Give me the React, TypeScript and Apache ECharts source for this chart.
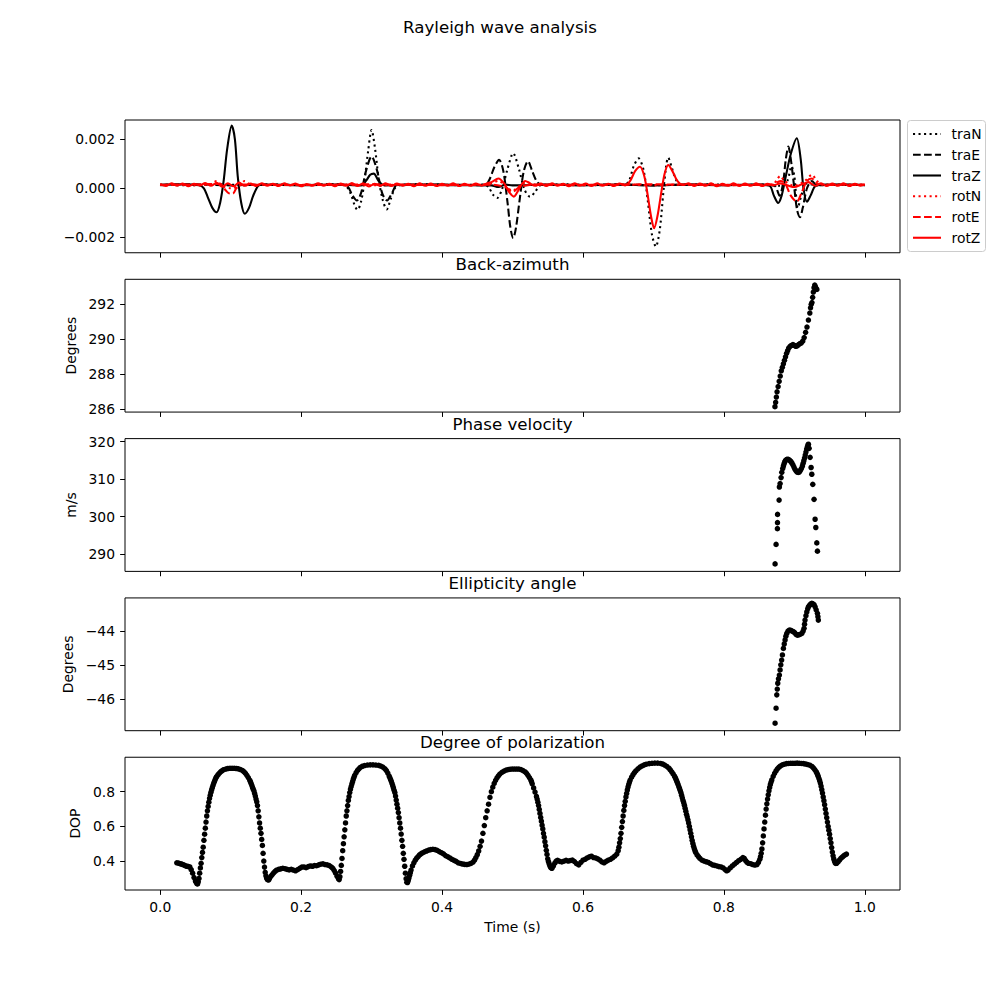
import React, { useEffect, useRef } from 'react';
import * as echarts from 'echarts';

// ---------------- data ----------------
const TIME_TICKS = [0, 0.2, 0.4, 0.6, 0.8, 1.0];
const AMP_UNIT = 1e-3; // amplitudes below are in units of 1e-3

const TRA_N: number[][] = [
  [0, 0.15], [0.04, 0.12], [0.08, 0.16], [0.12, 0.13], [0.16, 0.15], [0.2, 0.13], [0.24, 0.16], [0.262, 0.12],
  [0.27, -0.2], [0.276, -0.7], [0.28, -0.88], [0.285, -0.55], [0.29, 0.3], [0.295, 1.5], [0.3, 2.38], [0.305, 1.6],
  [0.31, 0.4], [0.316, -0.5], [0.3215, -0.86], [0.327, -0.45], [0.333, 0.0], [0.34, 0.14], [0.38, 0.16], [0.42, 0.13],
  [0.46, 0.15], [0.466, 0.05], [0.472, -0.25], [0.478, -0.4], [0.485, -0.05], [0.493, 0.8], [0.501, 1.43], [0.509, 0.8],
  [0.517, -0.05], [0.525, -0.35], [0.532, -0.15], [0.54, 0.13], [0.58, 0.16], [0.62, 0.13], [0.66, 0.15], [0.666, 0.35],
  [0.672, 0.9], [0.679, 1.22], [0.686, 0.75], [0.692, -0.5], [0.698, -1.9], [0.7035, -2.38], [0.709, -1.7], [0.714, -0.2],
  [0.718, 0.9], [0.721, 1.25], [0.726, 0.85], [0.733, 0.3], [0.74, 0.14], [0.78, 0.16], [0.82, 0.13], [0.86, 0.15],
  [0.88, 0.1], [0.89, 0.3], [0.896, 0.9], [0.9, 0.5], [0.905, -0.8], [0.91, -0.3], [0.918, 0.2], [0.93, 0.12],
  [0.96, 0.15], [1.0, 0.14],
];
const TRA_E: number[][] = [
  [0, 0.13], [0.05, 0.16], [0.1, 0.12], [0.15, 0.15], [0.2, 0.13], [0.25, 0.16], [0.265, 0.1], [0.273, -0.3],
  [0.279, -0.5], [0.285, -0.2], [0.292, 0.7], [0.3, 1.3], [0.308, 0.7], [0.315, -0.2], [0.322, -0.5], [0.329, -0.2],
  [0.336, 0.12], [0.4, 0.15], [0.45, 0.13], [0.462, 0.15], [0.468, 0.4], [0.474, 0.85], [0.481, 1.16], [0.487, 0.7],
  [0.493, -0.6], [0.497, -1.6], [0.501, -2.04], [0.505, -1.6], [0.51, -0.5], [0.516, 0.7], [0.522, 1.11], [0.528, 0.7],
  [0.534, 0.3], [0.54, 0.15], [0.6, 0.13], [0.65, 0.16], [0.7, 0.12], [0.75, 0.15], [0.8, 0.13], [0.85, 0.15],
  [0.872, 0.1], [0.879, -0.3], [0.884, 0.2], [0.888, 1.2], [0.8916, 1.7], [0.895, 1.2], [0.9, 0.0], [0.904, -0.9],
  [0.908, -1.18], [0.912, -0.8], [0.918, 0.0], [0.925, 0.3], [0.932, 0.12], [0.95, 0.15], [1.0, 0.13],
];
const TRA_Z: number[][] = [
  [0, 0.14], [0.03, 0.16], [0.055, 0.13], [0.062, 0.0], [0.068, -0.4], [0.074, -0.8], [0.08, -0.98], [0.085, -0.6],
  [0.09, 0.3], [0.095, 1.6], [0.1015, 2.56], [0.106, 2.0], [0.11, 0.5], [0.115, -0.6], [0.12, -1.04], [0.126, -0.8],
  [0.132, -0.3], [0.139, 0.1], [0.145, 0.15], [0.2, 0.13], [0.25, 0.15], [0.285, 0.12], [0.292, 0.3], [0.298, 0.55],
  [0.303, 0.6], [0.31, 0.3], [0.318, 0.12], [0.36, 0.15], [0.42, 0.13], [0.47, 0.12], [0.48, 0.05], [0.49, 0.15],
  [0.5, 0.12], [0.55, 0.15], [0.6, 0.13], [0.65, 0.15], [0.7, 0.12], [0.75, 0.15], [0.8, 0.13], [0.85, 0.14],
  [0.865, 0.1], [0.871, -0.3], [0.877, -0.6], [0.882, -0.3], [0.888, 0.5], [0.895, 1.4], [0.9035, 2.04], [0.909, 1.2],
  [0.913, 0.0], [0.918, -0.55], [0.923, -0.3], [0.93, 0.1], [0.94, 0.14], [0.97, 0.15], [1.0, 0.13],
];
const ROT_N: number[][] = [
  [0, 0.15], [0.05, 0.13], [0.072, 0.16], [0.08, 0.3], [0.088, 0.1], [0.1, 0.0], [0.112, 0.1], [0.12, 0.3],
  [0.128, 0.15], [0.2, 0.14], [0.26, 0.15], [0.3, 0.12], [0.35, 0.15], [0.45, 0.14], [0.47, 0.2], [0.48, 0.3],
  [0.49, 0.1], [0.5, -0.1], [0.51, 0.1], [0.52, 0.25], [0.53, 0.15], [0.6, 0.13], [0.66, 0.15], [0.7, 0.13],
  [0.76, 0.15], [0.82, 0.14], [0.87, 0.15], [0.875, 0.35], [0.88, 0.5], [0.886, 0.3], [0.9, 0.1], [0.915, 0.3],
  [0.925, 0.55], [0.932, 0.3], [0.94, 0.15], [1.0, 0.14],
];
const ROT_E: number[][] = [
  [0, 0.14], [0.06, 0.16], [0.085, 0.18], [0.092, -0.05], [0.097, -0.2], [0.103, -0.22], [0.108, 0.0], [0.115, 0.15],
  [0.2, 0.13], [0.3, 0.16], [0.4, 0.13], [0.47, 0.15], [0.49, 0.05], [0.5, -0.15], [0.51, 0.05], [0.53, 0.15],
  [0.6, 0.14], [0.7, 0.16], [0.8, 0.13], [0.87, 0.15], [0.88, 0.3], [0.887, 0.2], [0.895, -0.3], [0.9035, -0.55],
  [0.91, -0.2], [0.918, 0.3], [0.925, 0.4], [0.932, 0.2], [0.95, 0.14], [1.0, 0.15],
];
const ROT_Z: number[][] = [
  [0, 0.16], [0.008, 0.09], [0.016, 0.2], [0.024, 0.11], [0.032, 0.19], [0.04, 0.08], [0.048, 0.18], [0.056, 0.12],
  [0.064, 0.21], [0.072, 0.1], [0.08, 0.22], [0.088, 0.06], [0.096, 0.2], [0.104, 0.08], [0.112, 0.23], [0.12, 0.1],
  [0.128, 0.19], [0.136, 0.09], [0.144, 0.2], [0.152, 0.11], [0.16, 0.18], [0.168, 0.09], [0.176, 0.2], [0.184, 0.12],
  [0.192, 0.19], [0.2, 0.08], [0.208, 0.17], [0.216, 0.1], [0.224, 0.2], [0.232, 0.11], [0.24, 0.18], [0.248, 0.08],
  [0.256, 0.19], [0.264, 0.1], [0.272, 0.21], [0.28, 0.09], [0.288, 0.2], [0.296, 0.07], [0.304, 0.18], [0.312, 0.1],
  [0.32, 0.2], [0.328, 0.09], [0.336, 0.19], [0.344, 0.11], [0.352, 0.18], [0.36, 0.08], [0.368, 0.2], [0.376, 0.1],
  [0.384, 0.19], [0.392, 0.09], [0.4, 0.18], [0.408, 0.11], [0.416, 0.2], [0.424, 0.09], [0.432, 0.18], [0.44, 0.1],
  [0.448, 0.19], [0.456, 0.11], [0.464, 0.2], [0.47, 0.25], [0.48, 0.4], [0.488, 0.2], [0.495, -0.15], [0.502, -0.34],
  [0.508, -0.1], [0.513, 0.15], [0.518, 0.3], [0.525, 0.2], [0.532, 0.1], [0.54, 0.19], [0.548, 0.09], [0.556, 0.2],
  [0.564, 0.1], [0.572, 0.18], [0.58, 0.08], [0.588, 0.2], [0.596, 0.11], [0.604, 0.19], [0.612, 0.09], [0.62, 0.2],
  [0.628, 0.1], [0.636, 0.18], [0.644, 0.09], [0.652, 0.19], [0.66, 0.12], [0.667, 0.3], [0.674, 0.7], [0.681, 0.88],
  [0.687, 0.5], [0.692, -0.3], [0.697, -1.2], [0.701, -1.63], [0.706, -1.1], [0.711, -0.2], [0.716, 0.6], [0.721, 0.95],
  [0.727, 0.7], [0.734, 0.3], [0.742, 0.14], [0.75, 0.2], [0.758, 0.09], [0.766, 0.19], [0.774, 0.1], [0.782, 0.2],
  [0.79, 0.08], [0.798, 0.18], [0.806, 0.11], [0.814, 0.2], [0.822, 0.09], [0.83, 0.19], [0.838, 0.1], [0.846, 0.2],
  [0.854, 0.09], [0.862, 0.18], [0.87, 0.12], [0.88, 0.2], [0.89, 0.12], [0.9, 0.05], [0.91, 0.15], [0.92, 0.25],
  [0.93, 0.1], [0.938, 0.2], [0.946, 0.09], [0.954, 0.19], [0.962, 0.1], [0.97, 0.2], [0.978, 0.09], [0.986, 0.18],
  [0.994, 0.11], [1.0, 0.16],
];

const BACK_AZIMUTH: number[][] = [
  [0.8725, 286.15], [0.8735, 286.4], [0.8745, 286.7], [0.8755, 287.0], [0.877, 287.3], [0.8785, 287.6], [0.88, 287.9],
  [0.8815, 288.2], [0.883, 288.4], [0.8845, 288.6], [0.886, 288.8], [0.8875, 289.0], [0.889, 289.2], [0.8905, 289.35],
  [0.892, 289.5], [0.894, 289.6], [0.896, 289.65], [0.898, 289.7], [0.9, 289.65], [0.902, 289.6], [0.904, 289.62],
  [0.906, 289.7], [0.908, 289.75], [0.91, 289.8], [0.912, 289.9], [0.914, 290.1], [0.916, 290.4], [0.918, 290.7],
  [0.92, 291.1], [0.922, 291.5], [0.923, 291.8], [0.924, 292.0], [0.925, 292.1], [0.926, 292.4], [0.927, 292.7],
  [0.928, 292.95], [0.929, 293.1], [0.93, 293.0], [0.931, 292.9], [0.932, 292.85],
];
const PHASE_VELOCITY: number[][] = [
  [0.8727, 287.4], [0.8741, 292.6], [0.876, 296.8], [0.8761, 298.4], [0.8762, 300.6], [0.8784, 304.4], [0.8788, 307.9],
  [0.8798, 308.8], [0.8812, 310.4], [0.8822, 311.8], [0.8835, 312.8], [0.8845, 313.5], [0.8855, 314.1], [0.8865, 314.6],
  [0.8875, 315.0], [0.889, 315.2], [0.8905, 315.3], [0.892, 315.2], [0.8935, 315.0], [0.895, 314.7], [0.8965, 314.3],
  [0.898, 313.8], [0.8995, 313.2], [0.901, 312.6], [0.9025, 312.2], [0.904, 311.9], [0.9055, 311.8], [0.907, 311.9],
  [0.9085, 312.3], [0.91, 312.8], [0.9115, 313.5], [0.9125, 314.2], [0.9135, 314.9], [0.9145, 315.6], [0.9155, 316.4],
  [0.9165, 317.2], [0.9175, 318.0], [0.9185, 318.6], [0.9195, 319.1], [0.92, 319.3], [0.921, 318.2], [0.9224, 315.8],
  [0.9238, 313.1], [0.9248, 311.3], [0.9262, 308.6], [0.928, 304.6], [0.9295, 299.3], [0.9305, 297.1], [0.9319, 293.0],
  [0.9328, 290.8],
];
const ELLIPTICITY: number[][] = [
  [0.8727, -46.7], [0.8741, -46.26], [0.8751, -45.87], [0.8758, -45.7], [0.8765, -45.53], [0.8775, -45.4], [0.8788, -45.29],
  [0.8798, -45.14], [0.8808, -44.99], [0.882, -44.85], [0.8831, -44.7], [0.8845, -44.51], [0.8857, -44.38], [0.8869, -44.26],
  [0.888, -44.15], [0.8893, -44.07], [0.891, -44.0], [0.893, -43.97], [0.895, -43.98], [0.897, -44.0], [0.8987, -44.02],
  [0.9005, -44.05], [0.9025, -44.1], [0.9043, -44.12], [0.906, -44.11], [0.908, -44.1], [0.9106, -44.07], [0.9125, -44.0],
  [0.9138, -43.92], [0.9145, -43.8], [0.9152, -43.68], [0.9165, -43.55], [0.9177, -43.44], [0.919, -43.35], [0.92, -43.29],
  [0.9215, -43.25], [0.923, -43.21], [0.9248, -43.19], [0.926, -43.2], [0.928, -43.23], [0.9295, -43.29], [0.931, -43.38],
  [0.9328, -43.48], [0.9335, -43.58], [0.9341, -43.68],
];
const DOP: number[][] = [
  [0.0235, 0.39], [0.026, 0.388], [0.028, 0.385], [0.03, 0.383], [0.032, 0.38], [0.034, 0.377], [0.036, 0.372], [0.038, 0.37],
  [0.04, 0.368], [0.042, 0.366], [0.044, 0.35], [0.046, 0.33], [0.048, 0.305], [0.05, 0.285], [0.051, 0.278], [0.052, 0.27],
  [0.053, 0.268], [0.054, 0.28], [0.055, 0.3], [0.056, 0.33], [0.057, 0.36], [0.058, 0.387], [0.059, 0.42], [0.06, 0.45],
  [0.061, 0.48], [0.062, 0.52], [0.063, 0.555], [0.064, 0.59], [0.065, 0.625], [0.066, 0.66], [0.067, 0.69], [0.068, 0.715],
  [0.069, 0.74], [0.07, 0.762], [0.071, 0.78], [0.072, 0.797], [0.073, 0.812], [0.074, 0.825], [0.075, 0.838], [0.076, 0.85],
  [0.077, 0.86], [0.078, 0.87], [0.079, 0.88], [0.08, 0.887], [0.082, 0.898], [0.084, 0.908], [0.086, 0.916], [0.088, 0.922],
  [0.09, 0.927], [0.093, 0.931], [0.096, 0.934], [0.099, 0.935], [0.102, 0.935], [0.105, 0.935], [0.108, 0.934], [0.111, 0.932],
  [0.114, 0.928], [0.117, 0.922], [0.119, 0.915], [0.121, 0.906], [0.123, 0.895], [0.125, 0.882], [0.127, 0.867], [0.128, 0.858],
  [0.129, 0.848], [0.13, 0.837], [0.131, 0.825], [0.132, 0.815], [0.133, 0.805], [0.134, 0.79], [0.135, 0.775], [0.136, 0.758],
  [0.137, 0.742], [0.138, 0.72], [0.139, 0.69], [0.14, 0.655], [0.141, 0.62], [0.142, 0.59], [0.143, 0.56], [0.144, 0.525],
  [0.145, 0.49], [0.146, 0.445], [0.147, 0.4], [0.148, 0.365], [0.149, 0.335], [0.15, 0.315], [0.151, 0.302], [0.152, 0.295],
  [0.153, 0.291], [0.154, 0.292], [0.155, 0.3], [0.157, 0.312], [0.159, 0.322], [0.161, 0.332], [0.163, 0.34], [0.165, 0.347],
  [0.168, 0.352], [0.171, 0.355], [0.174, 0.358], [0.177, 0.356], [0.18, 0.352], [0.183, 0.349], [0.186, 0.352], [0.189, 0.348],
  [0.192, 0.344], [0.195, 0.35], [0.198, 0.358], [0.201, 0.365], [0.204, 0.366], [0.207, 0.362], [0.21, 0.368], [0.213, 0.372],
  [0.216, 0.37], [0.219, 0.374], [0.222, 0.373], [0.225, 0.378], [0.228, 0.382], [0.231, 0.384], [0.234, 0.38], [0.237, 0.378],
  [0.24, 0.374], [0.243, 0.365], [0.245, 0.358], [0.247, 0.345], [0.249, 0.33], [0.251, 0.312], [0.253, 0.298], [0.254, 0.293],
  [0.255, 0.31], [0.256, 0.34], [0.257, 0.375], [0.258, 0.415], [0.259, 0.46], [0.26, 0.5], [0.261, 0.54], [0.262, 0.58],
  [0.263, 0.62], [0.264, 0.66], [0.265, 0.69], [0.266, 0.72], [0.267, 0.75], [0.268, 0.772], [0.269, 0.795], [0.27, 0.815],
  [0.271, 0.83], [0.272, 0.845], [0.273, 0.858], [0.274, 0.872], [0.275, 0.884], [0.276, 0.895], [0.278, 0.91], [0.28, 0.923],
  [0.282, 0.932], [0.284, 0.94], [0.287, 0.947], [0.29, 0.951], [0.294, 0.954], [0.298, 0.955], [0.302, 0.955], [0.306, 0.954],
  [0.31, 0.952], [0.313, 0.948], [0.316, 0.942], [0.319, 0.932], [0.321, 0.922], [0.323, 0.908], [0.325, 0.89], [0.326, 0.88],
  [0.327, 0.87], [0.328, 0.86], [0.329, 0.848], [0.33, 0.835], [0.331, 0.822], [0.332, 0.808], [0.333, 0.795], [0.334, 0.775],
  [0.335, 0.752], [0.336, 0.728], [0.337, 0.705], [0.338, 0.68], [0.339, 0.65], [0.34, 0.62], [0.341, 0.59], [0.342, 0.556],
  [0.343, 0.52], [0.344, 0.485], [0.345, 0.445], [0.346, 0.41], [0.347, 0.37], [0.348, 0.33], [0.349, 0.298], [0.35, 0.278],
  [0.351, 0.276], [0.352, 0.288], [0.353, 0.302], [0.354, 0.318], [0.355, 0.333], [0.356, 0.348], [0.358, 0.372], [0.36, 0.39],
  [0.362, 0.405], [0.364, 0.417], [0.366, 0.426], [0.368, 0.435], [0.37, 0.442], [0.372, 0.447], [0.375, 0.453], [0.378, 0.458],
  [0.381, 0.463], [0.384, 0.466], [0.387, 0.468], [0.39, 0.466], [0.393, 0.462], [0.396, 0.455], [0.399, 0.448], [0.402, 0.442],
  [0.405, 0.432], [0.408, 0.425], [0.411, 0.418], [0.414, 0.41], [0.417, 0.404], [0.42, 0.398], [0.423, 0.39], [0.426, 0.386],
  [0.429, 0.383], [0.432, 0.381], [0.435, 0.38], [0.438, 0.382], [0.441, 0.386], [0.444, 0.394], [0.446, 0.405], [0.448, 0.42],
  [0.45, 0.437], [0.452, 0.458], [0.454, 0.485], [0.456, 0.515], [0.458, 0.56], [0.46, 0.605], [0.462, 0.65], [0.464, 0.69],
  [0.466, 0.728], [0.468, 0.768], [0.47, 0.8], [0.472, 0.826], [0.474, 0.848], [0.476, 0.866], [0.478, 0.88], [0.48, 0.892],
  [0.482, 0.902], [0.485, 0.912], [0.488, 0.919], [0.491, 0.925], [0.494, 0.928], [0.497, 0.93], [0.5, 0.931], [0.503, 0.931],
  [0.506, 0.931], [0.509, 0.931], [0.512, 0.928], [0.515, 0.922], [0.518, 0.914], [0.52, 0.906], [0.522, 0.895], [0.524, 0.882],
  [0.526, 0.868], [0.527, 0.858], [0.528, 0.846], [0.53, 0.822], [0.532, 0.798], [0.534, 0.773], [0.535, 0.758], [0.536, 0.74],
  [0.537, 0.72], [0.538, 0.698], [0.539, 0.675], [0.54, 0.652], [0.541, 0.63], [0.542, 0.607], [0.543, 0.585], [0.544, 0.56],
  [0.545, 0.538], [0.546, 0.512], [0.547, 0.488], [0.548, 0.462], [0.549, 0.438], [0.55, 0.413], [0.551, 0.398], [0.552, 0.385],
  [0.553, 0.373], [0.554, 0.365], [0.555, 0.36], [0.556, 0.358], [0.558, 0.372], [0.56, 0.388], [0.562, 0.4], [0.564, 0.404],
  [0.567, 0.398], [0.57, 0.395], [0.573, 0.399], [0.576, 0.404], [0.579, 0.4], [0.582, 0.403], [0.585, 0.406], [0.588, 0.397],
  [0.591, 0.385], [0.594, 0.378], [0.597, 0.392], [0.6, 0.405], [0.603, 0.41], [0.606, 0.418], [0.609, 0.424], [0.612, 0.428],
  [0.615, 0.42], [0.618, 0.418], [0.621, 0.413], [0.624, 0.405], [0.627, 0.395], [0.63, 0.39], [0.633, 0.398], [0.636, 0.405],
  [0.639, 0.41], [0.642, 0.418], [0.645, 0.428], [0.648, 0.44], [0.65, 0.46], [0.651, 0.48], [0.652, 0.505], [0.653, 0.53],
  [0.654, 0.56], [0.655, 0.595], [0.656, 0.628], [0.657, 0.66], [0.658, 0.692], [0.659, 0.72], [0.66, 0.745], [0.661, 0.77],
  [0.662, 0.79], [0.663, 0.81], [0.664, 0.828], [0.665, 0.843], [0.666, 0.856], [0.667, 0.867], [0.669, 0.884], [0.671, 0.898],
  [0.673, 0.91], [0.675, 0.92], [0.678, 0.932], [0.681, 0.942], [0.684, 0.949], [0.687, 0.955], [0.69, 0.959], [0.694, 0.962],
  [0.698, 0.964], [0.702, 0.965], [0.706, 0.965], [0.71, 0.963], [0.713, 0.96], [0.716, 0.954], [0.719, 0.946], [0.722, 0.936],
  [0.724, 0.926], [0.726, 0.915], [0.728, 0.903], [0.73, 0.89], [0.731, 0.882], [0.732, 0.872], [0.733, 0.862], [0.734, 0.852],
  [0.735, 0.842], [0.736, 0.83], [0.737, 0.82], [0.738, 0.808], [0.739, 0.795], [0.74, 0.78], [0.741, 0.765], [0.742, 0.75],
  [0.743, 0.737], [0.744, 0.722], [0.745, 0.705], [0.746, 0.688], [0.747, 0.67], [0.748, 0.655], [0.749, 0.638], [0.75, 0.62],
  [0.751, 0.6], [0.752, 0.58], [0.753, 0.56], [0.754, 0.54], [0.755, 0.52], [0.756, 0.502], [0.757, 0.486], [0.758, 0.472],
  [0.759, 0.46], [0.76, 0.45], [0.762, 0.435], [0.764, 0.425], [0.766, 0.415], [0.769, 0.405], [0.772, 0.4], [0.775, 0.396],
  [0.778, 0.392], [0.781, 0.385], [0.784, 0.378], [0.787, 0.375], [0.79, 0.372], [0.793, 0.368], [0.796, 0.366], [0.799, 0.36],
  [0.802, 0.35], [0.804, 0.344], [0.806, 0.348], [0.809, 0.36], [0.812, 0.372], [0.815, 0.382], [0.818, 0.392], [0.821, 0.402],
  [0.824, 0.41], [0.827, 0.42], [0.829, 0.415], [0.831, 0.402], [0.833, 0.392], [0.835, 0.387], [0.838, 0.385], [0.841, 0.38],
  [0.844, 0.377], [0.847, 0.38], [0.849, 0.392], [0.851, 0.41], [0.852, 0.425], [0.853, 0.445], [0.854, 0.47], [0.855, 0.505],
  [0.856, 0.545], [0.857, 0.585], [0.858, 0.625], [0.859, 0.665], [0.86, 0.7], [0.861, 0.73], [0.862, 0.758], [0.863, 0.782],
  [0.864, 0.805], [0.865, 0.825], [0.866, 0.842], [0.867, 0.856], [0.868, 0.868], [0.87, 0.889], [0.872, 0.906], [0.874, 0.92],
  [0.876, 0.932], [0.878, 0.941], [0.88, 0.948], [0.883, 0.955], [0.886, 0.959], [0.889, 0.962], [0.892, 0.963], [0.895, 0.964],
  [0.898, 0.964], [0.901, 0.964], [0.904, 0.965], [0.907, 0.964], [0.91, 0.963], [0.913, 0.962], [0.916, 0.96], [0.919, 0.957],
  [0.922, 0.953], [0.925, 0.946], [0.927, 0.938], [0.929, 0.928], [0.931, 0.916], [0.932, 0.908], [0.933, 0.898], [0.934, 0.888],
  [0.935, 0.876], [0.936, 0.864], [0.937, 0.85], [0.938, 0.832], [0.939, 0.812], [0.94, 0.792], [0.941, 0.77], [0.942, 0.748],
  [0.943, 0.725], [0.944, 0.7], [0.945, 0.675], [0.946, 0.65], [0.947, 0.625], [0.948, 0.6], [0.949, 0.578], [0.95, 0.555],
  [0.951, 0.53], [0.952, 0.505], [0.953, 0.478], [0.954, 0.452], [0.955, 0.43], [0.956, 0.412], [0.957, 0.4], [0.958, 0.39],
  [0.959, 0.386], [0.96, 0.387], [0.962, 0.395], [0.964, 0.405], [0.966, 0.416], [0.968, 0.422], [0.97, 0.43], [0.972, 0.435],
  [0.974, 0.44],
];

const SUPTITLE = 'Rayleigh wave analysis';
const PANEL_TITLES = ['', 'Back-azimuth', 'Phase velocity', 'Ellipticity angle', 'Degree of polarization'];
const Y_NAMES = ['', 'Degrees', 'm/s', 'Degrees', 'DOP'];
const Y_TICKS = [[-0.002, 0, 0.002], [286, 288, 290, 292], [290, 300, 310, 320], [-46, -45, -44], [0.4, 0.6, 0.8]];
const Y_DECIMALS = [3, 0, 0, 0, 1];
const Y_RANGES = [[-0.002633, 0.002788], [285.84, 293.43], [285.4, 320.8], [-46.92, -43.03], [0.233, 0.999]];
const X_LABEL = 'Time (s)';

const TRACE_NAMES = ['traN', 'traE', 'traZ', 'rotN', 'rotE', 'rotZ'];
const TRACE_DATA = [TRA_N, TRA_E, TRA_Z, ROT_N, ROT_E, ROT_Z];
const SCATTER_DATA = [BACK_AZIMUTH, PHASE_VELOCITY, ELLIPTICITY, DOP];

// ---------------- styling ----------------
const PX = 100 / 72;
const LW = 1.5 * PX;
const DOTTED = [1 * 1.5 * PX, 1.65 * 1.5 * PX];
const DASHED = [3.7 * 1.5 * PX, 1.6 * 1.5 * PX];
const TRACE_STYLES = [
  { color: '#000000', dash: DOTTED },
  { color: '#000000', dash: DASHED },
  { color: '#000000', dash: null },
  { color: '#ff0000', dash: DOTTED },
  { color: '#ff0000', dash: DASHED },
  { color: '#ff0000', dash: null },
];

const FONT = 'DejaVu Sans';
const FS = 10 * PX;
const TITLE_FS = 12 * PX;
const GRID_LEFT = 125;
const GRID_W = 775;
const GRID_H = 132.76;
const GRID_STEP = 159.31;
const GRID_TOP0 = 120;
const Y_NAME_GAPS = [0, 41, 40, 44, 38];
const TICK_LEN = 3.5 * PX;

function fmt(v: number, d: number): string {
  return v.toFixed(d).replace('-', '\u2212');
}

function buildOption(): any {
  const grids: any[] = [];
  const xAxes: any[] = [];
  const yAxes: any[] = [];
  for (let i = 0; i < 5; i++) {
    const top = GRID_TOP0 + i * GRID_STEP;
    grids.push({
      left: GRID_LEFT, top, width: GRID_W, height: GRID_H,
      show: true, borderColor: '#000', borderWidth: 1, backgroundColor: 'transparent',
      containLabel: false, outerBoundsMode: 'none',
    });
    const isBottom = i === 4;
    xAxes.push({
      type: 'value', gridIndex: i, min: -0.05, max: 1.05, position: 'bottom',
      axisLine: { show: false, onZero: false },
      splitLine: { show: false },
      axisTick: { show: true, inside: false, length: TICK_LEN, customValues: TIME_TICKS, lineStyle: { color: '#000', width: 1 } },
      axisLabel: {
        show: isBottom, customValues: TIME_TICKS, margin: 10, color: '#000', fontFamily: FONT, fontSize: FS,
        formatter: (v: number) => fmt(v, 1),
      },
      name: isBottom ? X_LABEL : '', nameLocation: 'middle', nameGap: 30,
      nameTextStyle: { color: '#000', fontFamily: FONT, fontSize: FS },
    });
    yAxes.push({
      type: 'value', gridIndex: i, min: Y_RANGES[i][0], max: Y_RANGES[i][1], position: 'left',
      axisLine: { show: false, onZero: false },
      splitLine: { show: false },
      axisTick: { show: true, inside: false, length: TICK_LEN, customValues: Y_TICKS[i], lineStyle: { color: '#000', width: 1 } },
      axisLabel: {
        show: true, customValues: Y_TICKS[i], margin: 10, color: '#000', fontFamily: FONT, fontSize: FS,
        formatter: (v: number) => fmt(v, Y_DECIMALS[i]),
      },
      name: Y_NAMES[i], nameLocation: 'middle', nameGap: Y_NAME_GAPS[i],
      nameTextStyle: { color: '#000', fontFamily: FONT, fontSize: FS },
    });
  }

  const series: any[] = [];
  TRACE_DATA.forEach((d, k) => {
    const st = TRACE_STYLES[k];
    series.push({
      type: 'line', name: TRACE_NAMES[k], xAxisIndex: 0, yAxisIndex: 0,
      data: d.map(([t, v]) => [t, v * AMP_UNIT]),
      showSymbol: false, symbol: 'none', smooth: 0.3, silent: true,
      lineStyle: { color: st.color, width: LW, type: st.dash ? st.dash : 'solid', cap: 'butt', opacity: 1 },
    });
  });
  SCATTER_DATA.forEach((d, k) => {
    series.push({
      type: 'scatter', xAxisIndex: k + 1, yAxisIndex: k + 1, data: d,
      symbol: 'circle', symbolSize: 5.5, silent: true,
      itemStyle: { color: '#000', borderWidth: 0, opacity: 1 },
    });
  });

  const graphics: any[] = [];
  for (let i = 1; i < 5; i++) {
    const top = GRID_TOP0 + i * GRID_STEP;
    graphics.push({
      type: 'text', x: GRID_LEFT + GRID_W / 2, y: top - 14.4, silent: true,
      style: {
        text: PANEL_TITLES[i], fill: '#000', fontFamily: FONT, fontSize: TITLE_FS,
        align: 'center', verticalAlign: 'middle', textAlign: 'center', textVerticalAlign: 'middle',
      },
    });
  }
  // legend (box, handles, labels)
  const lgX = 907.5;
  const lgY = 120.5;
  const rowH = 20.75;
  graphics.push({
    type: 'rect', silent: true,
    shape: { x: lgX, y: lgY, width: 78, height: 131, r: 3 },
    style: { fill: 'rgba(255,255,255,0.8)', stroke: '#cccccc', lineWidth: 1 },
  });
  TRACE_NAMES.forEach((name, k) => {
    const st = TRACE_STYLES[k];
    const cy = 134 + k * rowH;
    graphics.push({
      type: 'line', silent: true,
      shape: { x1: 913, y1: cy, x2: 941, y2: cy },
      style: { stroke: st.color, lineWidth: LW, lineDash: st.dash ? st.dash : null, lineCap: 'butt' },
    });
    graphics.push({
      type: 'text', x: 951.5, y: cy, silent: true,
      style: {
        text: name, fill: '#000', fontFamily: FONT, fontSize: FS,
        align: 'left', verticalAlign: 'middle', textAlign: 'left', textVerticalAlign: 'middle',
      },
    });
  });

  return {
    animation: false,
    backgroundColor: '#ffffff',
    textStyle: { fontFamily: FONT },
    title: {
      text: SUPTITLE, left: 'center', top: 19, padding: 0,
      textStyle: { color: '#000', fontFamily: FONT, fontSize: TITLE_FS, fontWeight: 'normal' },
    },
    grid: grids,
    xAxis: xAxes,
    yAxis: yAxes,
    series,
    graphic: graphics,
  };
}

export default function App() {
  const ref = useRef<HTMLDivElement>(null);
  useEffect(() => {
    if (!ref.current) return;
    const chart = echarts.init(ref.current, undefined, { renderer: 'svg' });
    chart.setOption(buildOption());
    return () => chart.dispose();
  }, []);
  return (
    <div
      ref={ref}
      style={{ position: 'fixed', left: 0, top: 0, width: 1000, height: 1000, background: '#fff' }}
    />
  );
}
